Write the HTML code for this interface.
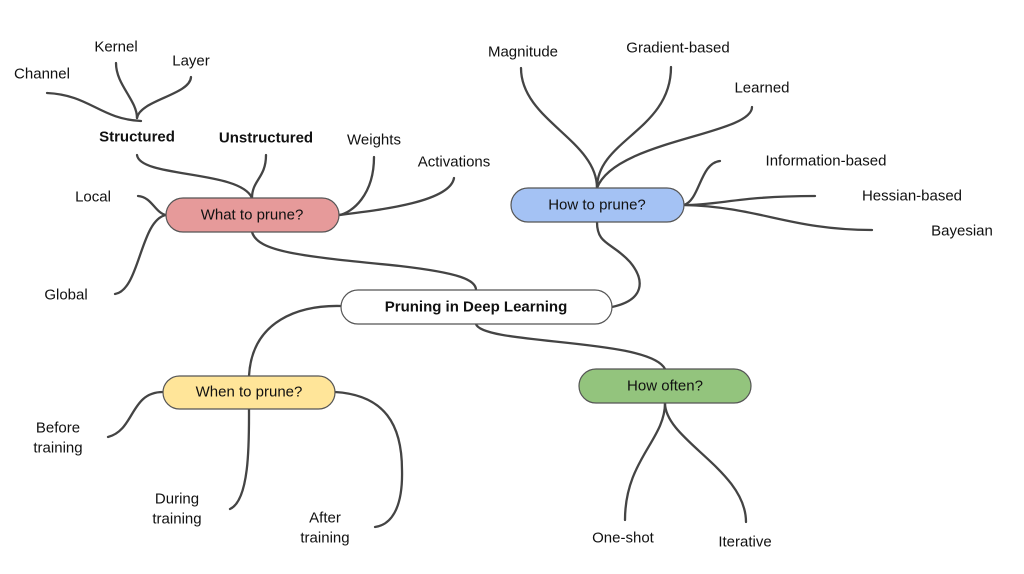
<!DOCTYPE html>
<html><head><meta charset="utf-8"><style>
html,body{margin:0;padding:0;background:#fff;}
svg{display:block;}
text{font-family:"Liberation Sans",Arial,sans-serif;font-size:15px;fill:#111;text-anchor:middle;dominant-baseline:central;}
.b{font-weight:bold;}
path{fill:none;stroke:#444;stroke-width:2.3;stroke-linecap:round;}
rect{stroke:#555;stroke-width:1.2;}
</style></head><body>
<svg width="1024" height="574" viewBox="0 0 1024 574">
<!-- connectors -->
<path d="M252,232 C258,252 300,256 400,266 C460,273 476,280 476,290"/>
<path d="M612,307 C645,300 645,280 630,262 C612,242 597,245 597,222"/>
<path d="M341,306 C300,305 252,320 249,376"/>
<path d="M476,324 C482,345 650,338 665,369"/>
<path d="M137,155 C140,178 240,170 252,198"/>
<path d="M266,155 C266,178 252,180 252,198"/>
<path d="M374,157 C374,195 352,213 339,215"/>
<path d="M454,178 C450,202 380,210 339,215"/>
<path d="M138,196 C152,197 155,213 166,215"/>
<path d="M115,294 C140,290 140,220 166,215"/>
<path d="M47,93 C90,95 100,119 141,121"/>
<path d="M116,63 C116,85 137,100 137,118"/>
<path d="M191,77 C190,95 140,100 137,118"/>
<path d="M521,68 C521,120 597,140 597,188"/>
<path d="M671,67 C671,130 597,140 597,188"/>
<path d="M752,107 C752,135 615,140 597,188"/>
<path d="M684,205 C700,200 700,163 720,161"/>
<path d="M684,205 C720,205 740,196 815,196"/>
<path d="M684,205 C760,207 790,230 872,230"/>
<path d="M108,437 C135,430 130,392 163,392"/>
<path d="M249,409 C249,440 250,500 230,509"/>
<path d="M335,392 C385,395 402,425 402,470 C403,510 390,525 375,527"/>
<path d="M665,403 C665,440 625,460 625,520"/>
<path d="M665,403 C665,440 746,470 746,522"/>
<!-- nodes -->
<rect x="341" y="290" width="271" height="34" rx="17" fill="#fff"/>
<text class="b" x="476" y="307">Pruning in Deep Learning</text>
<rect x="166" y="198" width="173" height="34" rx="17" fill="#e69a9a"/>
<text x="252" y="215">What to prune?</text>
<rect x="511" y="188" width="173" height="34" rx="17" fill="#a4c2f4"/>
<text x="597" y="205">How to prune?</text>
<rect x="163" y="376" width="172" height="33" rx="16.5" fill="#ffe599"/>
<text x="249" y="392">When to prune?</text>
<rect x="579" y="369" width="172" height="34" rx="17" fill="#93c47d"/>
<text x="665" y="386">How often?</text>
<!-- labels -->
<text x="42" y="74">Channel</text>
<text x="116" y="47">Kernel</text>
<text x="191" y="61">Layer</text>
<text class="b" x="137" y="137">Structured</text>
<text class="b" x="266" y="138">Unstructured</text>
<text x="374" y="140">Weights</text>
<text x="454" y="162">Activations</text>
<text x="93" y="197">Local</text>
<text x="66" y="295">Global</text>
<text x="523" y="52">Magnitude</text>
<text x="678" y="48">Gradient-based</text>
<text x="762" y="88">Learned</text>
<text x="826" y="161">Information-based</text>
<text x="912" y="196">Hessian-based</text>
<text x="962" y="231">Bayesian</text>
<text x="58" y="428">Before</text>
<text x="58" y="448">training</text>
<text x="177" y="499">During</text>
<text x="177" y="519">training</text>
<text x="325" y="518">After</text>
<text x="325" y="538">training</text>
<text x="623" y="538">One-shot</text>
<text x="745" y="542">Iterative</text>
</svg>
</body></html>
